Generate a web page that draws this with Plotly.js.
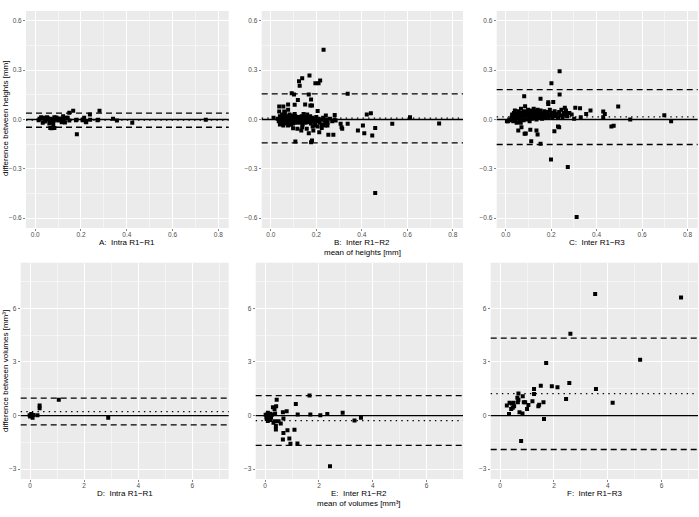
<!DOCTYPE html>
<html>
<head>
<meta charset="utf-8">
<script src="https://cdn.plot.ly/plotly-3.0.1.min.js"></script>
<style>html,body{margin:0;padding:0;background:#fff}#chart{width:699px;height:517px}</style>
</head>
<body>
<div id="chart"></div>
<script>
// ---- Panel labels ----
const panelLabels = ["A:  Intra R1\u2212R1", "B:  Inter R1\u2212R2", "C:  Inter R1\u2212R3",
                     "D:  Intra R1\u2212R1", "E:  Inter R1\u2212R2", "F:  Inter R1\u2212R3"];
const xTitleTop = "mean of heights [mm]";
const xTitleBottom = "mean of volumes [mm\u00B3]";
const yTitleTop = "difference between heights [mm]";
const yTitleBottom = "difference between volumes [mm\u00B3]";

// ---- Reference lines (mean difference, limits of agreement) ----
const meanDiff  = [-0.003, 0.008, 0.016, 0.22, -0.28, 1.23];
const upperLoA  = [0.039, 0.156, 0.182, 0.97, 1.115, 4.33];
const lowerLoA  = [-0.047, -0.142, -0.152, -0.52, -1.67, -1.90];

// ---- Panel A: heights, intra R1-R1 ----
const aX = [0.019,0.026,0.033,0.038,0.045,0.052,0.059,0.064,0.069,0.072,0.077,0.079,0.084,0.084,0.088,0.096,0.101,0.110,0.116,0.122,0.124,0.130,0.136,0.142,0.149,0.149,0.166,0.181,0.182,0.208,0.214,0.223,0.239,0.240,0.275,0.281,0.340,0.357,0.424,0.745,
            0.015,0.028,0.042,0.055,0.062,0.066,0.074,0.081,0.092,0.105,0.178,0.207,0.221,0.272];
const aY = [0.004,0.014,-0.020,0.010,-0.006,0.014,0.000,-0.010,0.004,-0.053,-0.016,-0.031,0.014,-0.051,-0.002,0.004,-0.006,0.000,-0.016,0.020,-0.002,-0.018,0.010,0.010,0.041,-0.006,0.053,-0.002,-0.089,0.000,0.010,-0.016,0.031,-0.002,-0.002,0.053,0.004,-0.006,-0.020,-0.002,
            -0.004,0.006,-0.012,0.008,-0.024,-0.052,0.002,-0.008,0.012,0.006,-0.004,-0.004,-0.014,-0.004];

// ---- Panel B: heights, inter R1-R2 ----
const bX = [0.232,0.170,0.138,0.124,0.127,0.196,0.210,0.217,0.092,0.102,0.167,0.338,0.119,0.177,0.181,0.076,0.105,0.151,0.174,0.037,0.055,0.037,0.059,0.076,0.105,0.144,0.160,0.206,0.242,0.281,0.422,0.440,0.612,0.534,0.740,
            0.012,0.040,0.055,0.076,0.090,0.098,0.117,0.134,0.138,0.158,0.167,0.184,0.187,0.181,0.177,0.108,0.196,0.206,0.213,0.224,0.239,0.249,0.253,0.275,0.285,0.307,0.311,0.314,0.338,0.383,0.405,0.411,0.459,0.446,0.459,
            0.030,0.035,0.040,0.042,0.045,0.048,0.050,0.052,0.055,0.058,0.060,0.062,0.065,0.068,0.070,0.072,0.075,0.078,0.080,0.082,0.085,0.088,0.090,0.092,0.095,0.098,0.100,0.103,0.105,0.108,0.110,0.112,0.115,0.118,0.120,0.123,0.125,0.128,0.130,0.133,0.135,0.138,0.140,0.143,0.146,0.150,0.153,0.156,0.160,0.163,0.166,0.170,0.173,0.176,0.180,0.183,0.186,0.190,0.194,0.198,0.200,0.205,0.210,0.215,0.220,0.225,0.230,0.235,0.240,0.245,0.250,0.260,0.270,0.280];
const bY = [0.425,0.267,0.251,0.233,0.206,0.221,0.221,0.237,0.160,0.152,0.152,0.156,0.119,0.121,0.085,0.091,0.089,0.091,0.085,0.079,0.079,0.049,0.049,0.059,0.034,0.034,0.030,0.051,0.024,0.028,0.030,0.038,0.014,-0.026,-0.024,
            0.010,-0.030,-0.036,-0.036,-0.032,-0.053,-0.057,-0.067,-0.047,-0.057,-0.083,-0.043,-0.067,-0.128,-0.138,-0.134,-0.036,-0.043,-0.077,-0.051,-0.036,-0.036,-0.093,-0.093,-0.006,-0.026,-0.047,-0.057,-0.026,-0.067,-0.036,-0.083,-0.051,-0.097,-0.447,
            0.005,-0.010,0.020,0.000,-0.020,0.010,0.030,-0.005,0.015,-0.015,0.005,0.040,-0.025,0.000,0.020,-0.010,0.010,-0.020,0.000,0.030,-0.005,0.015,-0.015,0.005,0.025,-0.025,0.000,0.010,-0.010,0.020,-0.020,0.000,0.005,-0.015,0.015,-0.005,0.000,-0.020,0.010,-0.010,0.020,0.000,-0.030,0.005,-0.010,0.010,-0.020,0.000,0.015,-0.015,0.005,-0.005,0.020,-0.025,0.000,0.010,-0.010,0.005,-0.020,0.000,0.015,-0.010,0.005,-0.020,0.000,-0.030,0.010,-0.005,-0.015,0.000,-0.020,0.005,-0.010,0.000];

// ---- Panel C: heights, inter R1-R3 ----
const cX = [0.237,0.201,0.237,0.187,0.187,0.153,0.081,0.209,0.260,0.265,0.306,0.327,0.373,0.429,0.436,0.495,0.354,0.330,0.301,0.429,0.465,0.475,0.548,0.698,0.728,0.199,0.273,0.312,0.153,0.230,0.135,0.140,0.108,0.083,0.088,0.069,0.055,0.112,0.066,0.214,0.235,
            0.005,0.010,0.015,0.020,0.025,0.028,0.030,0.033,0.036,0.038,0.040,0.042,0.045,0.048,0.050,0.052,0.055,0.057,0.060,0.062,0.065,0.067,0.070,0.072,0.075,0.078,0.080,0.082,0.085,0.087,0.090,0.092,0.095,0.098,0.100,0.103,0.105,0.108,0.110,0.113,0.115,0.118,0.120,0.123,0.125,0.128,0.130,0.133,0.135,0.138,0.140,0.143,0.146,0.150,0.153,0.156,0.160,0.163,0.166,0.170,0.173,0.176,0.180,0.183,0.186,0.190,0.194,0.198,0.200,0.205,0.210,0.215,0.220,0.225,0.230,0.235,0.240,0.245,0.250,0.255,0.260,0.265,0.270,0.280,0.290];
const cY = [0.294,0.221,0.152,0.105,0.095,0.126,0.142,0.107,0.071,0.038,0.071,0.069,0.055,0.049,0.034,0.079,0.034,0.014,0.004,0.014,-0.043,-0.038,0.000,0.026,-0.010,-0.243,-0.289,-0.593,-0.148,-0.043,-0.067,-0.091,-0.063,-0.087,-0.085,-0.047,-0.067,-0.132,-0.020,-0.071,-0.047,
            -0.010,-0.010,0.000,-0.005,0.010,0.030,0.020,-0.010,0.040,0.010,0.055,0.000,0.025,-0.020,0.035,0.015,0.050,0.005,0.030,-0.015,0.020,0.065,0.040,0.010,0.030,-0.005,0.050,0.020,0.080,0.035,0.000,0.045,0.025,0.060,0.015,0.040,-0.010,0.030,0.055,0.020,0.005,0.045,0.030,0.065,0.010,0.035,0.050,0.020,0.000,0.040,0.060,0.025,0.015,0.035,0.055,0.020,0.005,0.040,0.030,0.050,0.015,0.035,0.025,0.045,0.010,0.030,0.060,0.020,0.040,0.015,0.030,0.050,0.020,0.035,0.010,0.045,0.025,0.060,0.015,0.040,0.030,0.055,0.020,0.040,0.030];

// ---- Panel D: volumes, intra R1-R1 ----
const dX = [-0.02,0.04,0.09,0.27,0.35,0.35,1.06,2.89,0.05,0.00,0.12];
const dY = [0.02,0.09,-0.13,0.02,0.41,0.56,0.89,-0.13,0.00,-0.05,0.03];

// ---- Panel E: volumes, inter R1-R2 ----
const eX = [0.02,0.09,0.12,0.16,0.19,0.21,0.25,0.10,0.29,0.35,0.41,0.43,0.37,0.31,0.37,0.40,0.40,0.50,0.58,0.66,0.68,0.68,0.66,0.80,0.83,0.90,0.94,1.09,1.14,1.20,1.21,1.65,1.68,2.05,2.31,2.88,3.32,3.56,2.41,
            0.05,0.08,0.12,0.15,0.18,0.20,0.06,0.10,0.14,0.22];
const eY = [0.04,-0.04,-0.13,0.06,-0.22,-0.07,0.04,0.15,0.46,0.37,0.52,0.89,0.11,-0.41,-0.32,-0.59,-0.78,-0.32,-0.45,0.19,-0.17,-0.97,-1.34,0.24,-0.82,-1.28,-1.58,-0.80,0.65,-1.56,0.06,1.12,0.06,0.02,0.09,0.15,-0.28,-0.13,-2.83,
            -0.10,0.05,-0.20,-0.05,-0.25,0.10,-0.20,-0.30,0.08,-0.12];

// ---- Panel F: volumes, inter R1-R3 ----
const fX = [3.53,6.72,2.61,5.20,1.71,2.57,1.92,2.13,1.51,3.56,1.26,1.26,0.68,0.84,0.64,0.68,0.66,1.20,0.88,0.93,1.61,1.45,1.42,2.45,4.18,1.05,1.00,0.50,0.43,0.35,0.25,0.47,0.41,0.52,0.33,0.72,0.83,1.63,0.78];
const fY = [6.80,6.60,4.57,3.12,2.94,1.82,1.64,1.58,1.67,1.49,1.49,1.21,1.23,1.08,0.99,0.89,0.74,0.80,0.74,0.74,0.74,0.61,0.52,0.93,0.71,0.59,0.37,0.71,0.67,0.71,0.56,0.43,0.37,0.52,0.09,0.19,0.11,-0.19,-1.43];

const xs = [aX,bX,cX,dX,eX,fX];
const ys = [aY,bY,cY,dY,eY,fY];

// ---- Layout geometry (pixels in 699x517 page) ----
const W = 699, H = 517;
const boxes = [
  [26, 228.7, 11, 228], [261.7, 463, 11, 228], [496.7, 697.7, 11, 228],
  [20.7, 228.7, 262.7, 479], [255.7, 463, 262.7, 479], [490.7, 698, 262.7, 479]
];

const tickFont = {family: "Liberation Sans, Arial, sans-serif", size: 6.5, color: "#4D4D4D"};
const titleFont = {family: "Liberation Sans, Arial, sans-serif", size: 8, color: "#000000"};

const traces = [];
const shapes = [];
const annotations = [];
const layout = {
  width: W, height: H,
  margin: {l: 0, r: 0, t: 0, b: 0},
  paper_bgcolor: "#FFFFFF",
  plot_bgcolor: "#EBEBEB",
  showlegend: false,
  shapes: shapes,
  annotations: annotations
};

for (let i = 0; i < 6; i++) {
  const n = i + 1;
  const top = i < 3;
  const xa = "xaxis" + (n === 1 ? "" : n);
  const ya = "yaxis" + (n === 1 ? "" : n);
  const xr = "x" + (n === 1 ? "" : n);
  const yr = "y" + (n === 1 ? "" : n);
  const b = boxes[i];
  const common = {
    showgrid: true, gridcolor: "#FFFFFF", gridwidth: 1,
    zeroline: false, showline: false,
    ticks: "outside", ticklen: 2, tickwidth: 0.6, tickcolor: "#333333",
    tickfont: tickFont, fixedrange: true
  };
  layout[xa] = Object.assign({}, common, {
    domain: [b[0] / W, b[1] / W],
    anchor: yr,
    range: top ? [-0.04, 0.845] : [-0.35, 7.35],
    tickmode: "linear", tick0: 0, dtick: top ? 0.2 : 2,
    tickformat: top ? ".1f" : "d",
    ticklabelstandoff: -2,
    minor: {dtick: top ? 0.1 : 1, showgrid: true, gridcolor: "#FFFFFF", gridwidth: 0.5}
  });
  layout[ya] = Object.assign({}, common, {
    domain: [1 - b[3] / H, 1 - b[2] / H],
    anchor: xr,
    range: top ? [-0.66, 0.66] : [-3.55, 8.55],
    tickmode: "linear", tick0: 0, dtick: top ? 0.3 : 3,
    tickformat: top ? ".1f" : "d",
    minor: {dtick: top ? 0.15 : 1.5, showgrid: true, gridcolor: "#FFFFFF", gridwidth: 0.5}
  });

  traces.push({
    type: "scatter", mode: "markers",
    x: xs[i], y: ys[i], xaxis: xr, yaxis: yr,
    marker: {symbol: "square", size: 4, color: "#000000", line: {width: 0}},
    hoverinfo: "skip"
  });

  const xd = xr + " domain";
  shapes.push({type: "line", xref: xd, yref: yr, x0: 0, x1: 1, y0: 0, y1: 0,
               line: {color: "#000000", width: 1.3}});
  shapes.push({type: "line", xref: xd, yref: yr, x0: 0, x1: 1, y0: meanDiff[i], y1: meanDiff[i],
               line: {color: "#000000", width: 1.3, dash: "1.4px,4.2px"}});
  shapes.push({type: "line", xref: xd, yref: yr, x0: 0, x1: 1, y0: upperLoA[i], y1: upperLoA[i],
               line: {color: "#000000", width: 1.3, dash: "6px,4px"}});
  shapes.push({type: "line", xref: xd, yref: yr, x0: 0, x1: 1, y0: lowerLoA[i], y1: lowerLoA[i],
               line: {color: "#000000", width: 1.3, dash: "6px,4px"}});

  // panel label below the panel
  annotations.push({
    text: panelLabels[i], xref: "paper", yref: "paper",
    x: (b[0] + b[1]) / 2 / W, y: 1 - (b[3] + 14) / H,
    xanchor: "center", yanchor: "middle", showarrow: false, font: titleFont
  });
}

// shared axis titles
annotations.push({text: xTitleTop, xref: "paper", yref: "paper",
  x: (boxes[1][0] + boxes[1][1]) / 2 / W, y: 1 - 252.5 / H,
  xanchor: "center", yanchor: "middle", showarrow: false, font: titleFont});
annotations.push({text: xTitleBottom, xref: "paper", yref: "paper",
  x: (boxes[4][0] + boxes[4][1]) / 2 / W, y: 1 - 503.5 / H,
  xanchor: "center", yanchor: "middle", showarrow: false, font: titleFont});
annotations.push({text: yTitleTop, xref: "paper", yref: "paper",
  x: 5 / W, y: 1 - 119 / H, textangle: -90,
  xanchor: "center", yanchor: "middle", showarrow: false, font: titleFont});
annotations.push({text: yTitleBottom, xref: "paper", yref: "paper",
  x: 5 / W, y: 1 - 371 / H, textangle: -90,
  xanchor: "center", yanchor: "middle", showarrow: false, font: titleFont});

Plotly.newPlot("chart", traces, layout, {staticPlot: true, displayModeBar: false});
</script>
</body>
</html>
